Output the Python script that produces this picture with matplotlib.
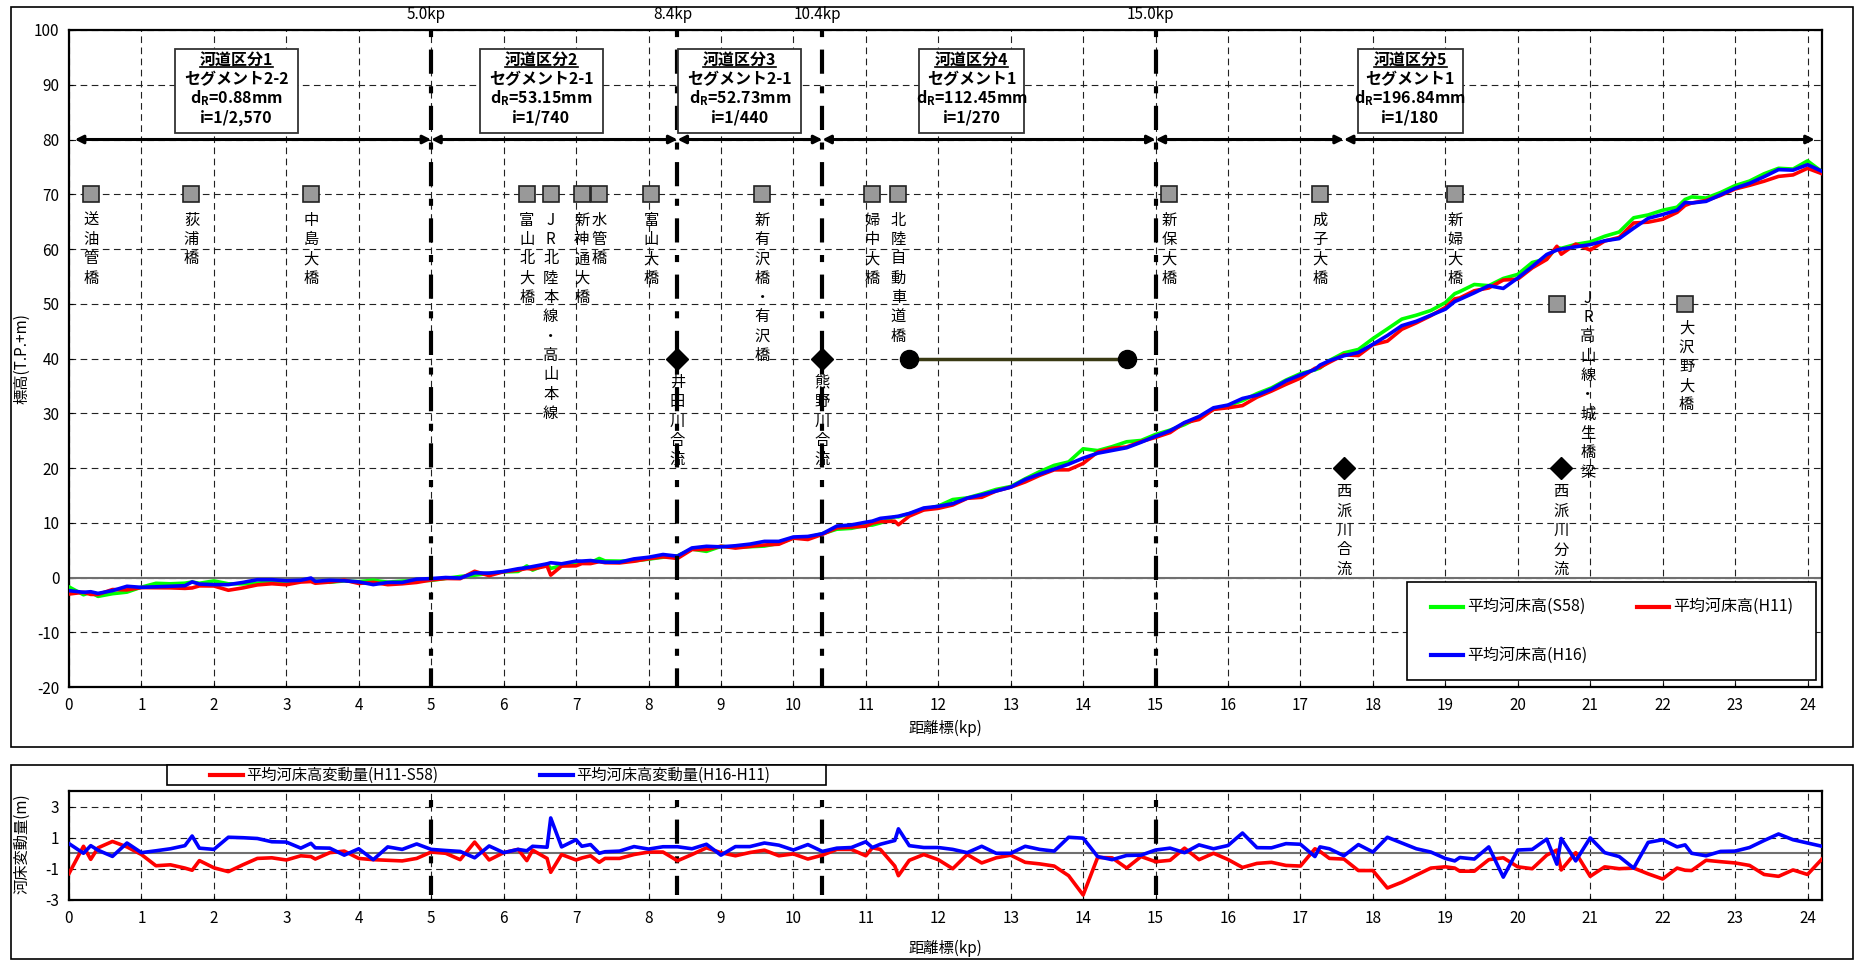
import numpy as np
import matplotlib
matplotlib.use('Agg')
import matplotlib.pyplot as plt
from matplotlib.patches import Rectangle

plt.rcParams['font.family'] = ['Noto Sans CJK JP', 'DejaVu Sans']
plt.rcParams['axes.unicode_minus'] = False

# ---- 縦断データ (距離標 kp) ----
KP = [0.0, 0.2, 0.3, 0.4, 0.6, 0.8, 1.0, 1.2, 1.4, 1.6,
      1.7, 1.8, 2.0, 2.2, 2.4, 2.6, 2.8, 3.0, 3.2, 3.34,
      3.4, 3.6, 3.8, 4.0, 4.2, 4.4, 4.6, 4.8, 5.0, 5.2,
      5.4, 5.6, 5.8, 6.0, 6.2, 6.32, 6.4, 6.6, 6.65, 6.8,
      7.0, 7.08, 7.2, 7.32, 7.4, 7.6, 7.8, 8.0, 8.2, 8.4,
      8.6, 8.8, 9.0, 9.2, 9.4, 9.6, 9.8, 10.0, 10.2, 10.4,
      10.6, 10.8, 11.0, 11.09, 11.2, 11.4, 11.45, 11.6, 11.8, 12.0,
      12.2, 12.4, 12.6, 12.8, 13.0, 13.2, 13.4, 13.6, 13.8, 14.0,
      14.2, 14.4, 14.6, 14.8, 15.0, 15.2, 15.4, 15.6, 15.8, 16.0,
      16.2, 16.4, 16.6, 16.8, 17.0, 17.2, 17.27, 17.4, 17.6, 17.8,
      18.0, 18.2, 18.4, 18.6, 18.8, 19.0, 19.13, 19.2, 19.4, 19.6,
      19.8, 20.0, 20.2, 20.4, 20.54, 20.6, 20.8, 21.0, 21.2, 21.4,
      21.6, 21.8, 22.0, 22.2, 22.31, 22.4, 22.6, 22.8, 23.0, 23.2,
      23.4, 23.6, 23.8, 24.0, 24.2]

# 平均河床高 (T.P.+m)
Z_S58 = [-1.72, -3.15, -2.70, -3.45, -2.96, -2.67, -1.76, -1.06, -1.15, -1.04,
         -0.82, -1.06, -0.62, -1.15, -1.16, -1.02, -0.85, -0.89, -0.67, -0.53,
         -0.68, -0.87, -0.62, -0.76, -0.48, -0.86, -0.66, -0.57, -0.53, -0.18,
         0.19, 0.42, 0.76, 1.02, 1.10, 2.11, 1.35, 2.44, 1.65, 2.17,
         2.56, 2.85, 2.70, 3.48, 3.03, 2.99, 3.05, 3.35, 3.70, 3.96,
         5.19, 4.77, 5.68, 5.53, 5.62, 5.74, 6.24, 7.23, 7.31, 8.00,
         8.82, 8.98, 9.52, 9.58, 9.97, 11.10, 11.07, 11.66, 12.41, 13.04,
         14.24, 14.54, 15.27, 16.09, 16.62, 18.03, 19.33, 20.48, 21.11, 23.51,
         23.18, 23.90, 24.79, 25.03, 26.13, 26.92, 27.93, 29.27, 30.71, 31.40,
         32.31, 33.59, 34.63, 36.06, 37.24, 37.92, 38.27, 39.64, 41.03, 41.65,
         43.63, 45.40, 47.20, 47.91, 48.77, 50.20, 51.84, 52.22, 53.52, 53.30,
         54.62, 55.36, 57.54, 58.21, 60.29, 60.12, 60.85, 61.29, 62.33, 63.10,
         65.70, 66.22, 67.08, 67.64, 69.05, 69.51, 69.31, 70.32, 71.58, 72.41,
         73.74, 74.74, 74.60, 76.10, 74.12]

Z_H11 = [-3.02, -2.70, -3.09, -3.10, -2.20, -2.26, -1.84, -1.86, -1.89, -1.99,
         -1.91, -1.53, -1.55, -2.33, -1.90, -1.35, -1.14, -1.32, -0.83, -0.74,
         -1.05, -0.83, -0.48, -1.09, -0.89, -1.31, -1.15, -0.90, -0.45, -0.18,
         -0.22, 1.14, 0.33, 1.06, 1.35, 1.64, 1.55, 2.11, 0.43, 2.09,
         2.13, 2.55, 2.54, 2.90, 2.70, 2.66, 2.97, 3.43, 3.78, 3.48,
         5.11, 5.12, 5.72, 5.37, 5.67, 5.94, 6.08, 7.19, 6.94, 7.88,
         9.07, 9.23, 9.36, 9.93, 10.22, 10.28, 9.63, 11.21, 12.33, 12.63,
         13.25, 14.46, 14.65, 15.80, 16.50, 17.45, 18.65, 19.66, 19.67, 20.83,
         22.91, 23.61, 23.84, 24.82, 25.59, 26.47, 28.26, 28.86, 30.71, 31.00,
         31.40, 32.94, 34.05, 35.28, 36.42, 38.21, 38.39, 39.31, 40.66, 40.54,
         42.52, 43.17, 45.34, 46.51, 47.82, 49.33, 50.89, 51.07, 52.37, 52.89,
         54.33, 54.49, 56.55, 58.09, 60.50, 59.05, 60.89, 59.81, 61.46, 62.11,
         64.75, 64.90, 65.43, 66.69, 67.96, 68.40, 68.86, 69.78, 70.96, 71.63,
         72.38, 73.26, 73.53, 74.74, 73.75]

Z_H16 = [-2.4, -2.7, -2.6, -2.9, -2.4, -1.6, -1.8, -1.7, -1.6, -1.5,
         -0.8, -1.2, -1.3, -1.3, -0.9, -0.4, -0.4, -0.6, -0.5, -0.1,
         -0.7, -0.5, -0.6, -0.8, -1.3, -0.9, -0.9, -0.3, -0.2, 0.0,
         -0.1, 0.85, 0.8, 1.1, 1.6, 1.8, 2.0, 2.5, 2.7, 2.5,
         3.0, 3.0, 3.1, 2.9, 2.8, 2.8, 3.4, 3.7, 4.2, 3.9,
         5.4, 5.7, 5.6, 5.8, 6.1, 6.6, 6.6, 7.4, 7.5, 8.0,
         9.4, 9.6, 10.1, 10.3, 10.8, 11.1, 11.2, 11.7, 12.7, 13.0,
         13.5, 14.5, 15.1, 15.8, 16.5, 17.9, 18.9, 19.8, 20.7, 21.8,
         22.7, 23.2, 23.7, 24.7, 25.8, 26.8, 28.3, 29.4, 31.0, 31.5,
         32.7, 33.3, 34.4, 35.9, 37.0, 38.0, 38.8, 39.6, 40.5, 41.1,
         42.6, 44.2, 46.0, 46.8, 47.9, 49.0, 50.4, 50.8, 52.0, 53.3,
         52.8, 54.7, 56.8, 59.0, 59.8, 60.0, 60.4, 60.8, 61.5, 61.9,
         63.8, 65.6, 66.3, 67.1, 68.5, 68.4, 68.7, 69.9, 71.1, 72.0,
         73.2, 74.5, 74.4, 75.4, 74.2]

# 平均河床高変動量 (m)
DZ_H11_S58 = [-1.3, 0.45, -0.39, 0.35, 0.76, 0.41, -0.08, -0.8, -0.74, -0.95,
              -1.09, -0.47, -0.93, -1.18, -0.74, -0.33, -0.29, -0.43, -0.16, -0.21,
              -0.37, 0.04, 0.14, -0.33, -0.41, -0.45, -0.49, -0.33, 0.08, 0.0,
              -0.41, 0.72, -0.43, 0.04, 0.25, -0.47, 0.2, -0.33, -1.22, -0.08,
              -0.43, -0.3, -0.16, -0.58, -0.33, -0.33, -0.08, 0.08, 0.08, -0.48,
              -0.08, 0.35, 0.04, -0.16, 0.05, 0.2, -0.16, -0.04, -0.37, -0.12,
              0.25, 0.25, -0.16, 0.35, 0.25, -0.82, -1.44, -0.45, -0.08, -0.41,
              -0.99, -0.08, -0.62, -0.29, -0.12, -0.58, -0.68, -0.82, -1.44, -2.68,
              -0.27, -0.29, -0.95, -0.21, -0.54, -0.45, 0.33, -0.41, 0.0, -0.4,
              -0.91, -0.65, -0.58, -0.78, -0.82, 0.29, 0.12, -0.33, -0.37, -1.11,
              -1.11, -2.23, -1.86, -1.4, -0.95, -0.87, -0.95, -1.15, -1.15, -0.41,
              -0.29, -0.87, -0.99, -0.12, 0.21, -1.07, 0.04, -1.48, -0.87, -0.99,
              -0.95, -1.32, -1.65, -0.95, -1.09, -1.11, -0.45, -0.54, -0.62, -0.78,
              -1.36, -1.48, -1.07, -1.36, -0.37]

DZ_H16_H11 = [0.62, 0.0, 0.49, 0.2, -0.2, 0.66, 0.04, 0.16, 0.29, 0.49,
              1.11, 0.33, 0.25, 1.03, 1.0, 0.95, 0.74, 0.72, 0.33, 0.64,
              0.35, 0.33, -0.12, 0.29, -0.41, 0.41, 0.25, 0.6, 0.25, 0.18,
              0.12, -0.29, 0.47, 0.04, 0.25, 0.16, 0.45, 0.39, 2.27, 0.41,
              0.87, 0.45, 0.56, 0.0, 0.1, 0.14, 0.43, 0.27, 0.42, 0.42,
              0.29, 0.58, -0.12, 0.43, 0.43, 0.66, 0.52, 0.21, 0.56, 0.12,
              0.33, 0.37, 0.74, 0.37, 0.58, 0.82, 1.57, 0.49, 0.37, 0.37,
              0.25, 0.04, 0.45, 0.0, 0.0, 0.45, 0.25, 0.14, 1.03, 0.97,
              -0.21, -0.41, -0.14, -0.12, 0.21, 0.33, 0.04, 0.54, 0.29, 0.5,
              1.3, 0.36, 0.35, 0.62, 0.58, -0.21, 0.41, 0.29, -0.16, 0.56,
              0.08, 1.03, 0.66, 0.29, 0.08, -0.33, -0.49, -0.27, -0.37, 0.41,
              -1.53, 0.21, 0.25, 0.91, -0.7, 0.95, -0.49, 0.99, 0.04, -0.21,
              -0.95, 0.7, 0.87, 0.41, 0.54, 0.0, -0.16, 0.12, 0.14, 0.37,
              0.82, 1.24, 0.87, 0.66, 0.45]

# ---- 河道区分 ----
SECTION_KP = [5.0, 8.4, 10.4, 15.0]
SECTION_LABELS = ['5.0kp', '8.4kp', '10.4kp', '15.0kp']
ARROW_KP = [0.08, 5.0, 8.4, 10.4, 15.0, 17.6, 24.1]

SEG_LEFT = [1.46, 5.67, 8.41, 11.73, 17.79]
SEG_RIGHT = [3.16, 7.37, 10.11, 13.19, 19.24]
SEG_TITLE = ['河道区分1', '河道区分2', '河道区分3', '河道区分4', '河道区分5']
SEG_NAME = ['セグメント2-2', 'セグメント2-1', 'セグメント2-1', 'セグメント1', 'セグメント1']
SEG_DR = ['0.88', '53.15', '52.73', '112.45', '196.84']
SEG_SLOPE = ['1/2,570', '1/740', '1/440', '1/270', '1/180']

# ---- 橋梁 ----
BRIDGE_KP = [0.3, 1.69, 3.34, 6.32, 6.65, 7.08, 7.32, 8.04, 9.57, 11.09,
             11.45, 15.19, 17.27, 19.13, 20.54, 22.31]
BRIDGE_Z = [70, 70, 70, 70, 70, 70, 70, 70, 70, 70, 70, 70, 70, 70, 50, 50]
BRIDGE_NAMES = ['送油管橋', '荻浦橋', '中島大橋', '富山北大橋', 'JR北陸本線・高山本線',
                '新神通大橋', '水管橋', '富山大橋', '新有沢橋・有沢橋', '婦中大橋',
                '北陸自動車道橋', '新保大橋', '成子大橋', '新婦大橋',
                'JR高山線・城生橋梁', '大沢野大橋']

# ---- 合流・分流 ----
JUNCTION_KP = [8.4, 10.4, 17.6, 20.6]
JUNCTION_Z = [40, 40, 20, 20]
JUNCTION_NAMES = ['井田川合流', '熊野川合流', '西派川合流', '西派川分流']

RANGE_KP = [11.6, 14.6]
RANGE_Z = [40, 40]

W, H = 1865, 961
fig = plt.figure(figsize=(W / 100, H / 100), dpi=100)


def fx(px):
    return px / W


def fy(py):
    return 1 - py / H


# パネル外枠
fig.add_artist(Rectangle((fx(11), fy(747)), fx(1853) - fx(11), fy(7) - fy(747),
                         transform=fig.transFigure, fill=False, ec='k', lw=1.2))
fig.add_artist(Rectangle((fx(11), fy(959)), fx(1853) - fx(11), fy(765) - fy(959),
                         transform=fig.transFigure, fill=False, ec='k', lw=1.2))

ax1 = fig.add_axes([fx(69), fy(687), fx(1822) - fx(69), fy(30) - fy(687)])
ax2 = fig.add_axes([fx(69), fy(900), fx(1822) - fx(69), fy(791) - fy(900)])

GRID = dict(color='#222222', lw=0.8, ls=(0, (6, 4)))
SECTION_LS = (0, (1.7, 3, 5.8, 3))
VTEXT = dict(fontsize=11, ha='center', va='top', linespacing=1.18, zorder=8)

# ================= 上段: 平均河床高縦断図 =================
ax1.set_xlim(0, 24.2)
ax1.set_ylim(-20, 100)
ax1.set_xticks(range(0, 25))
ax1.set_yticks(range(-20, 101, 10))
ax1.grid(True, **GRID)
ax1.set_axisbelow(True)
ax1.axhline(0, color='#707070', lw=1.5, zorder=1)
ax1.tick_params(labelsize=11, direction='in', length=3, pad=7)
for s in ax1.spines.values():
    s.set_linewidth(1.6)

ax1.plot(KP, Z_S58, color='#00ff00', lw=2.6, zorder=3)
ax1.plot(KP, Z_H11, color='#ff0000', lw=2.6, zorder=3)
ax1.plot(KP, Z_H16, color='#0000ff', lw=2.6, zorder=3)

for x, lab in zip(SECTION_KP, SECTION_LABELS):
    ax1.plot([x, x], [100, -20], color='k', lw=3, ls=SECTION_LS, zorder=4)
    ax1.text(x - 0.07, 102.9, lab, fontsize=11, ha='center', va='center')

# 区間矢印
for a, b in zip(ARROW_KP[:-1], ARROW_KP[1:]):
    ax1.annotate('', xy=(b, 80), xytext=(a, 80),
                 arrowprops=dict(arrowstyle='<|-|>', color='k', lw=2.2,
                                 mutation_scale=12, shrinkA=0, shrinkB=0),
                 zorder=5)

# 河道区分ボックス
titles = []
for l, r, t, n, d, i in zip(SEG_LEFT, SEG_RIGHT, SEG_TITLE, SEG_NAME, SEG_DR, SEG_SLOPE):
    ax1.add_patch(Rectangle((l, 81.2), r - l, 15.3, fc='white', ec='#333333',
                            lw=1.3, zorder=6))
    cx = (l + r) / 2
    titles.append(ax1.text(cx, 94.5, t, fontsize=11.5, fontweight='bold',
                           ha='center', va='center', zorder=7))
    ax1.text(cx, 91.1, n, fontsize=11.5, fontweight='bold', ha='center', va='center', zorder=7)
    ax1.text(cx, 87.5, r'd$_\mathregular{R}$=' + d + 'mm', fontsize=11.5,
             fontweight='bold', ha='center', va='center', zorder=7)
    ax1.text(cx, 84.0, 'i=' + i, fontsize=11.5, fontweight='bold',
             ha='center', va='center', zorder=7)

# 橋梁
ax1.plot(BRIDGE_KP, BRIDGE_Z, ls='none', marker='s', ms=12, mfc='#999999',
         mec='#222222', mew=1.2, zorder=6)
label_pos = {'JR高山線・城生橋梁': (20.97, 52.6), '大沢野大橋': (22.33, 47.2)}
for x, z, name in zip(BRIDGE_KP, BRIDGE_Z, BRIDGE_NAMES):
    px, py = label_pos.get(name, (x, z - 3.2))
    ax1.text(px, py, '\n'.join(name), **VTEXT)

# 合流点
ax1.plot(JUNCTION_KP, JUNCTION_Z, ls='none', marker='D', ms=11, color='k', zorder=6)
for x, z, name in zip(JUNCTION_KP, JUNCTION_Z, JUNCTION_NAMES):
    ax1.text(x, z - 2.8, '\n'.join(name), **VTEXT)

ax1.plot(RANGE_KP, RANGE_Z, color='#3a3a14', lw=2.5, marker='o', ms=13,
         mfc='k', mec='k', zorder=6)

# 凡例
ax1.add_patch(Rectangle((18.47, -18.8), 24.12 - 18.47, 17.95, fc='white',
                        ec='k', lw=1.2, zorder=9))
for x0, y0, c, lab in [(18.8, -5.3, '#00ff00', '平均河床高(S58)'),
                       (21.64, -5.3, '#ff0000', '平均河床高(H11)'),
                       (18.8, -14.2, '#0000ff', '平均河床高(H16)')]:
    ax1.plot([x0, x0 + 0.45], [y0, y0], color=c, lw=3, zorder=10)
    ax1.text(x0 + 0.5, y0, lab, fontsize=11.5, va='center', ha='left', zorder=10)

ax1.set_xlabel('距離標(kp)', fontsize=11)
ax1.xaxis.set_label_coords(0.5, -0.063)
ax1.xaxis.label.set_va('center')
ax1.set_ylabel('標高(T.P.+m)', fontsize=11)
ax1.yaxis.set_label_coords(-0.027, 0.5)
ax1.yaxis.label.set_va('center')

# ================= 下段: 平均河床高変動量 =================
ax2.set_xlim(0, 24.2)
ax2.set_ylim(-3, 4)
ax2.set_xticks(range(0, 25))
ax2.set_yticks([-3, -1, 1, 3])
ax2.grid(True, **GRID)
ax2.set_axisbelow(True)
ax2.axhline(0, color='#707070', lw=1.5, zorder=1)
ax2.tick_params(labelsize=11, direction='in', length=3, pad=7)
for s in ax2.spines.values():
    s.set_linewidth(1.6)

for x in SECTION_KP:
    ax2.plot([x, x], [3.45, -2.65], color='k', lw=3, ls=SECTION_LS, zorder=2)
ax2.plot(KP, DZ_H11_S58, color='#ff0000', lw=2.6, zorder=3)
ax2.plot(KP, DZ_H16_H11, color='#0000ff', lw=2.6, zorder=3)

fig.add_artist(Rectangle((fx(167), fy(785)), fx(826) - fx(167), fy(765) - fy(785),
                         transform=fig.transFigure, fc='white', ec='k', lw=1.2))
for x0, c, lab in [(210, '#ff0000', '平均河床高変動量(H11-S58)'),
                   (540, '#0000ff', '平均河床高変動量(H16-H11)')]:
    fig.add_artist(plt.Line2D([fx(x0), fx(x0 + 33)], [fy(775), fy(775)],
                              transform=fig.transFigure, color=c, lw=3))
    fig.text(fx(x0 + 36), fy(775), lab, fontsize=11, va='center', ha='left')

ax2.set_xlabel('距離標(kp)', fontsize=11)
ax2.xaxis.set_label_coords(0.5, -0.44)
ax2.xaxis.label.set_va('center')
ax2.set_ylabel('河床変動量(m)', fontsize=11)
ax2.yaxis.set_label_coords(-0.027, 0.52)
ax2.yaxis.label.set_va('center')

# 区分名の下線
fig.canvas.draw()
renderer = fig.canvas.get_renderer()
inv = ax1.transData.inverted()
for t in titles:
    bb = t.get_window_extent(renderer)
    (x0, y0), (x1, _) = inv.transform([(bb.x0, bb.y0), (bb.x1, bb.y1)])
    ax1.plot([x0, x1], [y0 + 0.25, y0 + 0.25], color='k', lw=1.2, zorder=7)

fig.savefig('out.png', dpi=100)
